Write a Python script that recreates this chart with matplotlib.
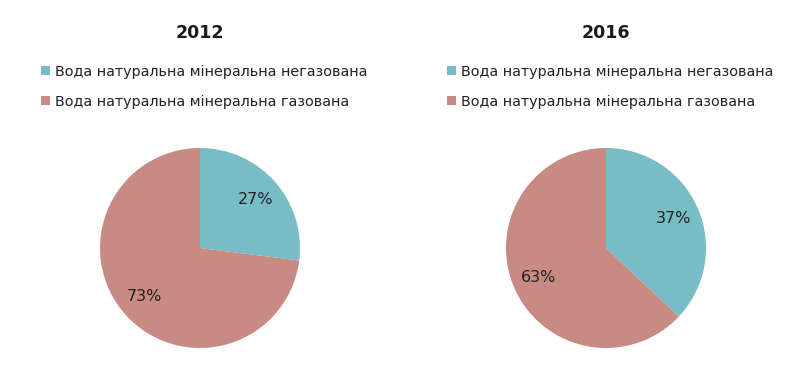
import matplotlib
matplotlib.use("Agg")
import matplotlib.pyplot as plt

# data
years = ["2012", "2016"]
labels = ["Вода натуральна мінеральна негазована",
          "Вода натуральна мінеральна газована"]
shares_2012 = [27, 73]
shares_2016 = [37, 63]
colors = ["#78BDC6", "#C88B83"]

plt.rcParams['font.family'] = ['DejaVu Sans']

W, H = 795, 391
fig = plt.figure(figsize=(W / 100, H / 100), dpi=100)
fig.patch.set_facecolor("white")

centers_x = [200, 606]
for year, shares, cx in zip(years, [shares_2012, shares_2016], centers_x):
    r = 100
    cy = 248
    ax = fig.add_axes([(cx - r) / W, 1 - (cy + r) / H, 2 * r / W, 2 * r / H])
    wedges, texts, autotexts = ax.pie(
        shares, colors=colors, startangle=90, counterclock=False,
        autopct=lambda p: "%d%%" % round(p), pctdistance=0.74,
        textprops={'fontsize': 11.5, 'color': '#222222'})
    ax.set_aspect('equal')
    ax.set_xlim(-1, 1)
    ax.set_ylim(-1, 1)
    ax.axis('off')

    fig.text(cx / W, 1 - 33 / H, year, ha='center', va='center',
             fontsize=12.5, fontweight='bold', color='#1a1a1a')
    fig.legend(wedges, labels, loc='upper left',
               bbox_to_anchor=((cx - 159) / W, 1 - 65 / H),
               frameon=False, fontsize=10.4, handlelength=0.6,
               handleheight=0.6, handletextpad=0.4, labelspacing=1.1,
               borderaxespad=0, borderpad=0, labelcolor='#222222')

fig.savefig("out.png", dpi=100, facecolor="white")
